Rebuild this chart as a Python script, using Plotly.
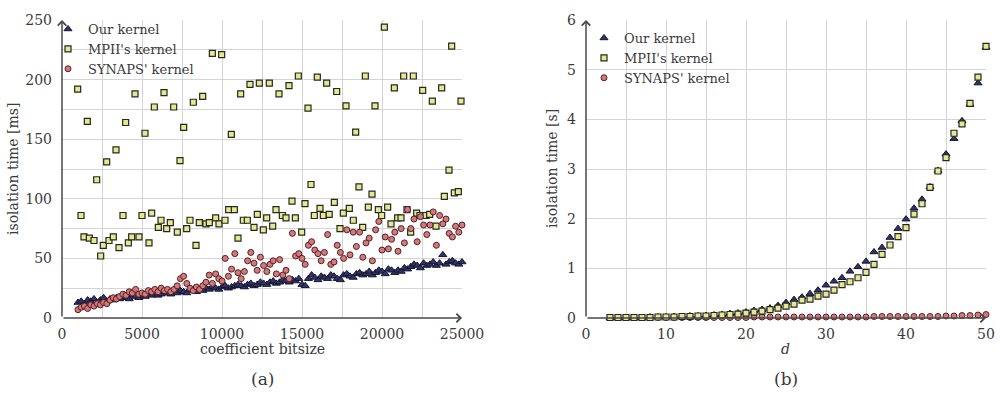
import plotly.graph_objects as go

# ---------------- data: panel (a) ----------------
bits_step_x = list(range(1000, 25001, 200))  # x positions of dense series

our_a = [13, 14, 12, 15, 14, 16, 13, 15, 17, 14,
         16, 15, 17, 16, 18, 17, 16, 19, 18, 17,
         19, 18, 20, 19, 21, 19, 20, 22, 21, 20,
         22, 21, 23, 22, 21, 24, 23, 22, 24, 23,
         25, 24, 26, 25, 24, 26, 27, 25, 26, 27,
         28, 27, 26, 28, 29, 27, 28, 30, 29, 28,
         30, 31, 29, 30, 32, 31, 30, 32, 31, 33,
         28, 27, 33, 36, 34, 32, 35, 34, 33, 36,
         35, 33, 32, 36, 37, 35, 34, 37, 38, 36,
         37, 39, 36, 38, 40, 39, 37, 41, 40, 38,
         40, 39, 42, 41, 43, 45, 44, 42, 46, 44,
         45, 47, 44, 46, 53, 45, 47, 48, 46, 45,
         47]

synaps_a = [7, 9, 10, 8, 11, 10, 12, 11, 13, 12,
            15, 17, 16, 18, 20, 19, 22, 21, 24, 20,
            21, 20, 23, 22, 24, 22, 25, 23, 24, 22,
            24, 27, 33, 35, 29, 25, 23, 26, 24, 27,
            30, 36, 29, 37, 33, 31, 50, 35, 41, 54,
            38, 33, 39, 48, 55, 46, 40, 51, 44, 39,
            45, 48, 37, 49, 36, 40, 33, 71, 52, 54,
            50, 45, 61, 64, 57, 54, 48, 55, 70, 45,
            47, 61, 55, 50, 74, 53, 72, 60, 72, 51,
            63, 67, 48, 74, 81, 57, 68, 58, 66, 72,
            56, 75, 63, 91, 75, 83, 64, 85, 78, 70,
            78, 89, 61, 86, 79, 83, 71, 68, 77, 72,
            78]

mpii_x = [979, 1188, 1375, 1583, 1708, 2000, 2167, 2417, 2583, 2792, 2937, 3208,
          3375, 3563, 3812, 3979, 4146, 4354, 4563, 4813, 5000, 5187, 5437, 5604,
          5771, 6021, 6188, 6375, 6542, 6771, 6979, 7208, 7375, 7604, 7792, 8000,
          8208, 8375, 8583, 8792, 9000, 9208, 9396, 9604, 9812, 9979, 10188, 10417,
          10583, 10771, 11000, 11167, 11333, 11583, 11750, 12000, 12208, 12333, 12583,
          12792, 12958, 13167, 13375, 13562, 13771, 14000, 14187, 14375, 14583, 14771,
          14979, 15187, 15375, 15562, 15771, 15958, 16125, 16333, 16542, 16700, 17021,
          17167, 17375, 17583, 17750, 17958, 18208, 18354, 18562, 18792, 18958, 19146,
          19375, 19562, 19771, 19979, 20146, 20354, 20562, 20771, 20979, 21187, 21354,
          21562, 21792, 21958, 22167, 22375, 22542, 22750, 22979, 23146, 23375, 23729,
          23896, 24187, 24354, 24521, 24771, 24937]
mpii_a = [192, 86, 68, 165, 67, 65, 116, 52, 61, 131, 65, 68,
          141, 59, 86, 164, 63, 68, 188, 68, 86, 155, 63, 88,
          177, 76, 82, 189, 75, 80, 177, 72, 132, 160, 75, 82,
          181, 61, 80, 186, 79, 80, 222, 84, 79, 221, 82, 91,
          154, 91, 67, 188, 82, 82, 196, 76, 87, 197, 74,
          84, 197, 77, 91, 188, 86, 84, 195, 98, 84, 203,
          72, 96, 176, 112, 86, 202, 92, 86, 197, 87, 97,
          190, 75, 88, 178, 92, 82, 156, 110, 76, 203, 93,
          104, 178, 91, 86, 244, 93, 79, 193, 84, 84, 203,
          91, 72, 203, 88, 86, 191, 86, 87, 182, 77, 193,
          102, 124, 228, 105, 106, 182]

# ---------------- data: panel (b) ----------------
d_vals = list(range(3, 51))
our_b = [0.01, 0.01, 0.01, 0.01, 0.01, 0.02, 0.02, 0.02, 0.03, 0.03, 0.04, 0.04,
         0.05, 0.06, 0.07, 0.09, 0.10, 0.12, 0.15, 0.17, 0.20, 0.25,
         0.31, 0.37, 0.42, 0.49, 0.56, 0.66, 0.74, 0.81, 0.94, 1.03, 1.14, 1.33,
         1.42, 1.62, 1.80, 1.99, 2.21, 2.39, 2.64, 2.97, 3.30, 3.61, 3.97, 4.30,
         4.73, 5.45]
mpii_b = [0.01, 0.01, 0.01, 0.01, 0.01, 0.01, 0.02, 0.02, 0.02, 0.03, 0.03, 0.04,
          0.04, 0.05, 0.06, 0.07, 0.08, 0.10, 0.12, 0.14, 0.17, 0.20,
          0.24, 0.28, 0.36, 0.38, 0.44, 0.48, 0.56, 0.67, 0.73, 0.81, 0.92, 1.08,
          1.28, 1.47, 1.64, 1.82, 2.09, 2.30, 2.63, 2.96, 3.23, 3.72, 3.91, 4.32,
          4.85, 5.47]
synaps_b = [0.01, 0.01, 0.01, 0.01, 0.01, 0.01, 0.01, 0.01, 0.01, 0.01, 0.01, 0.01,
            0.01, 0.01, 0.01, 0.01, 0.01, 0.01, 0.02, 0.02, 0.02, 0.02,
            0.02, 0.02, 0.02, 0.02, 0.02, 0.02, 0.02, 0.02, 0.02, 0.02, 0.02, 0.03,
            0.03, 0.03, 0.03, 0.03, 0.03, 0.03, 0.03, 0.03, 0.04, 0.04, 0.05, 0.05,
            0.06, 0.07]

names = ["Our kernel", "MPII's kernel", "SYNAPS' kernel"]

# ---------------- styles ----------------
FONT = "DejaVu Serif, Liberation Serif, serif"
TXT = "#3a3a3a"
GRID = "#d4d4d4"
AXC = "#4a4a4a"
styles = [
    dict(symbol="triangle-up", size=7, color="#33336b", line=dict(color="#15152e", width=1)),
    dict(symbol="square", size=6, color="#e3ea8c", line=dict(color="#262626", width=1.2)),
    dict(symbol="circle", size=6, color="#d8767b", line=dict(color="#4d2424", width=1)),
]

W, H = 1001, 407
top_px, bot_px = 20, 318
ydom = [1 - bot_px / H, 1 - top_px / H]
xdom1 = [62 / W, 462 / W]
xdom2 = [586 / W, 986 / W]

fig = go.Figure()

# panel (a)
fig.add_trace(go.Scatter(x=bits_step_x, y=our_a, mode="markers", name=names[0],
                         marker=styles[0], xaxis="x", yaxis="y", legend="legend",
                         cliponaxis=False))
fig.add_trace(go.Scatter(x=mpii_x, y=mpii_a, mode="markers", name=names[1],
                         marker=styles[1], xaxis="x", yaxis="y", legend="legend",
                         cliponaxis=False))
fig.add_trace(go.Scatter(x=bits_step_x, y=synaps_a, mode="markers", name=names[2],
                         marker=styles[2], xaxis="x", yaxis="y", legend="legend",
                         cliponaxis=False))
# panel (b)
fig.add_trace(go.Scatter(x=d_vals, y=synaps_b, mode="markers", name=names[2],
                         marker=styles[2], xaxis="x2", yaxis="y2", legend="legend2",
                         cliponaxis=False, legendrank=3))
fig.add_trace(go.Scatter(x=d_vals, y=our_b, mode="markers", name=names[0],
                         marker=styles[0], xaxis="x2", yaxis="y2", legend="legend2",
                         cliponaxis=False, legendrank=1))
fig.add_trace(go.Scatter(x=d_vals, y=mpii_b, mode="markers", name=names[1],
                         marker=styles[1], xaxis="x2", yaxis="y2", legend="legend2",
                         cliponaxis=False, legendrank=2))

tickfont = dict(family=FONT, size=14, color=TXT)
common_x = dict(showline=False, zeroline=False, showgrid=True, gridcolor=GRID,
                gridwidth=1.2, ticks="", tickfont=tickfont, ticklabelstandoff=6,
                tickformat="d")
common_y = dict(showline=False, zeroline=False, showgrid=True, gridcolor=GRID,
                gridwidth=1.2, ticks="", tickfont=tickfont, ticklabelstandoff=9)

legfont = dict(family=FONT, size=13, color=TXT)
fig.update_layout(
    width=W, height=H,
    margin=dict(l=0, r=0, t=0, b=0, autoexpand=False),
    paper_bgcolor="white", plot_bgcolor="white",
    showlegend=True,
    xaxis=dict(domain=xdom1, range=[0, 25000], dtick=5000, tick0=0,
               minor=dict(dtick=2500, showgrid=True, gridcolor=GRID, gridwidth=1.2),
               anchor="y", **common_x),
    yaxis=dict(domain=ydom, range=[0, 250], dtick=50, tick0=0,
               minor=dict(dtick=25, showgrid=True, gridcolor=GRID, gridwidth=1.2),
               anchor="x", **common_y),
    xaxis2=dict(domain=xdom2, range=[0, 50], dtick=10, tick0=0,
                minor=dict(dtick=5, showgrid=True, gridcolor=GRID, gridwidth=1.2),
                anchor="y2", **common_x),
    yaxis2=dict(domain=ydom, range=[0, 6], dtick=1, tick0=0,
                anchor="x2", **common_y),
    legend=dict(x=48 / W, y=1 - 14 / H, xanchor="left", yanchor="top",
                bgcolor="rgba(0,0,0,0)", font=legfont,
                itemwidth=30, tracegroupgap=0),
    legend2=dict(x=584 / W, y=1 - 23 / H, xanchor="left", yanchor="top",
                 bgcolor="rgba(0,0,0,0)", font=legfont,
                 itemwidth=30, tracegroupgap=0),
)

ann = []
# axis arrows
for xr, yr, xmax, ymax in [("x", "y", 25000, 250), ("x2", "y2", 50, 6)]:
    ann.append(dict(x=xmax, y=0, ax=0, ay=0, xref=xr, yref=yr, axref=xr, ayref=yr,
                    text="", showarrow=True, arrowhead=4, arrowsize=1.1,
                    arrowwidth=1.5, arrowcolor=AXC, standoff=0, startstandoff=0))
    ann.append(dict(x=0, y=ymax, ax=0, ay=0, xref=xr, yref=yr, axref=xr, ayref=yr,
                    text="", showarrow=True, arrowhead=4, arrowsize=1.1,
                    arrowwidth=1.5, arrowcolor=AXC, standoff=0, startstandoff=0))

titlefont = dict(family=FONT, size=14, color=TXT)
ann += [
    dict(text="isolation time [ms]", x=13 / W, y=1 - 169 / H, xref="paper", yref="paper",
         showarrow=False, textangle=-90, font=titlefont, xanchor="center", yanchor="middle"),
    dict(text="isolation time [s]", x=552 / W, y=1 - 169 / H, xref="paper", yref="paper",
         showarrow=False, textangle=-90, font=titlefont, xanchor="center", yanchor="middle"),
    dict(text="coefficient bitsize", x=262 / W, y=1 - 349 / H, xref="paper", yref="paper",
         showarrow=False, font=titlefont, xanchor="center", yanchor="middle"),
    dict(text="<i>d</i>", x=785 / W, y=1 - 349 / H, xref="paper", yref="paper",
         showarrow=False, font=titlefont, xanchor="center", yanchor="middle"),
    dict(text="(a)", x=262 / W, y=1 - 379 / H, xref="paper", yref="paper",
         showarrow=False, font=dict(family=FONT, size=17, color=TXT),
         xanchor="center", yanchor="middle"),
    dict(text="(b)", x=786 / W, y=1 - 379 / H, xref="paper", yref="paper",
         showarrow=False, font=dict(family=FONT, size=17, color=TXT),
         xanchor="center", yanchor="middle"),
]
fig.update_layout(annotations=ann)

fig.write_html("out.html")
